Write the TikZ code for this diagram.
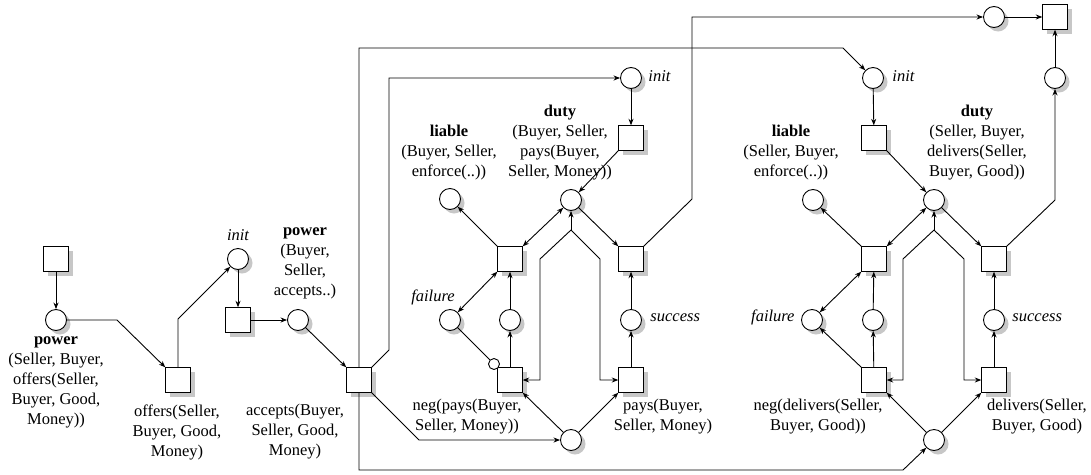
\documentclass[tikz,border=0pt]{standalone}
\usepackage{fontspec}
\setmainfont{Liberation Serif}
\usetikzlibrary{arrows.meta,calc}
\begin{document}
\begin{tikzpicture}[x=1pt,y=-1pt,
  line width=0.9pt,
  pl/.style={circle,draw,fill=white,minimum size=21pt,inner sep=0pt},
  tr/.style={rectangle,draw,fill=white,minimum size=24.5pt,inner sep=0pt},
  inh/.style={circle,draw,fill=white,minimum size=11pt,inner sep=0pt},
  shadowc/.style={fill=black!22,draw=none},
  lab/.style={font=\fontsize{16.5}{20}\selectfont,align=center,inner sep=0pt},
  ilab/.style={font=\fontsize{16.5}{20}\selectfont\itshape,inner sep=0pt},
  arr/.style={-{Stealth[length=6.5pt,width=5pt]}},
  darr/.style={{Stealth[length=6.5pt,width=5pt]}-{Stealth[length=6.5pt,width=5pt]}}]
\useasboundingbox (0,0) rectangle (1091,474);

% ---- shadows (drawn first, under everything)
\foreach \x/\y in {56/259,178/380,238/320,359/380,631/138,510/259,631/259,510/380,631/380,874/138,874/259,994/259,874/380,994/380,1055/17}
  \fill[shadowc] (\x-7.75,\y-7.75) rectangle (\x+16.75,\y+16.75);
\foreach \x/\y in {56/320,238/259,298/320,631/78,450/199,571/200,450/320,510/320,631/320,571/440,873/78,813/200,934/200,812/320,873/320,994/320,934/440,994/17,1055/78}
  \fill[shadowc] (\x+4,\y+4) circle[radius=10.5];

% ---- left part
\node[tr] (t0) at (56,259) {};
\node[pl] (p0) at (56,320) {};
\node[tr] (t1) at (178,380) {};
\node[pl] (p1) at (238,259) {};
\node[tr] (t2) at (238,320) {};
\node[pl] (p2) at (298,320) {};
\node[tr] (t3) at (359,380) {};

% ---- left group (pays)
\node[pl] (lInit) at (631,78) {};
\node[tr] (lT) at (631,138) {};
\node[pl] (lLiab) at (450,199) {};
\node[pl] (lDuty) at (571,200) {};
\node[tr] (lA) at (510,259) {};
\node[tr] (lB) at (631,259) {};
\node[pl] (lFail) at (450,320) {};
\node[pl] (lMid) at (510,320) {};
\node[pl] (lSucc) at (631,320) {};
\node[tr] (lC) at (510,380) {};
\node[tr] (lD) at (631,380) {};
\node[pl] (lBot) at (571,440) {};
\node[inh] (lInh) at (494,364) {};
\coordinate (lFork) at (571,230);

% ---- right group (delivers)
\node[pl] (rInit) at (873,78) {};
\node[tr] (rT) at (874,138) {};
\node[pl] (rLiab) at (813,200) {};
\node[pl] (rDuty) at (934,200) {};
\node[tr] (rA) at (874,259) {};
\node[tr] (rB) at (994,259) {};
\node[pl] (rFail) at (812,320) {};
\node[pl] (rMid) at (873,320) {};
\node[pl] (rSucc) at (994,320) {};
\node[tr] (rC) at (874,380) {};
\node[tr] (rD) at (994,380) {};
\node[pl] (rBot) at (934,440) {};
\coordinate (rFork) at (934,230);

% ---- top right
\node[pl] (tC) at (994,17) {};
\node[tr] (tS) at (1055,17) {};
\node[pl] (tR) at (1055,78) {};

% ---- labels
\node[lab] (l0) at (56,382.5) {\textbf{power}\\(Seller, Buyer,\\offers(Seller,\\Buyer, Good,\\Money))};
\node[lab] (l1) at (177,432) {offers(Seller,\\Buyer, Good,\\Money)};
\node[lab] (l2) at (295,432) {accepts(Buyer,\\Seller, Good,\\Money)};
\node[ilab,anchor=mid] (l3) at (238,238) {init};
\node[lab] (l4) at (305,263) {\textbf{power}\\(Buyer,\\Seller,\\accepts..)};
\node[lab] (l5) at (449,152.5) {\textbf{liable}\\(Buyer, Seller,\\enforce(..))};
\node[lab] (l6) at (560,142.5) {\textbf{duty}\\(Buyer, Seller,\\pays(Buyer,\\Seller, Money))};
\node[ilab,anchor=mid west] (l7) at (648,79) {init};
\node[ilab,anchor=mid] (l8) at (433,299) {failure};
\node[ilab,anchor=mid west] (l9) at (650,319) {success};
\node[lab] (l10) at (467,416.5) {neg(pays(Buyer,\\Seller, Money))};
\node[lab] (l11) at (663,416.5) {pays(Buyer,\\Seller, Money)};
\node[lab] (l12) at (791,152.5) {\textbf{liable}\\(Seller, Buyer,\\enforce(..))};
\node[lab] (l13) at (977,142.5) {\textbf{duty}\\(Seller, Buyer,\\delivers(Seller,\\Buyer, Good))};
\node[ilab,anchor=mid west] (l14) at (892,79) {init};
\node[ilab,anchor=mid east] (l15) at (795,319) {failure};
\node[ilab,anchor=mid west] (l16) at (1012,319) {success};
\node[lab] (l17) at (818,416.5) {neg(delivers(Seller,\\Buyer, Good))};
\node[lab] (l18) at (1037,416.5) {delivers(Seller,\\Buyer, Good)};

% ---- connectors, left part
\draw[arr] (t0) -- (p0);
\draw[arr] (p0.east) -- (117,320) -- (t1.north west);
\draw[arr] (t1.north) -- (178,319) -- (p1.south west);
\draw[arr] (p1) -- (t2);
\draw[arr] (t2) -- (p2);
\draw[arr] (p2.south east) -- (t3.north west);
\draw[arr] (t3.north) -- (359,48) -- (843,48) -- (rInit.north west);
\draw[arr] (t3.north east) -- (389,350) -- (389,78) -- (lInit.west);
\draw[arr] (t3.south east) -- (419,440) -- (lBot.west);
\draw[arr] (t3.south) -- (359,470) -- (903,470) -- (rBot.south west);

% ---- connectors, left group
\draw[arr] (lInit) -- (lT);
\draw[arr] (lT.south west) -- (lDuty.north east);
\draw[arr] (lA.north west) -- (lLiab.south east);
\draw[darr] (lA.north east) -- (lDuty.south west);
\draw[arr] (lDuty.south east) -- (lB.north west);
\draw[arr] (lFork) -- (lDuty.south);
\draw[arr] (lFork) -- (540,259) -- (540,380) -- (lC.east);
\draw[arr] (lFork) -- (600,259) -- (600,380) -- (lD.west);
\draw[darr] (lA.south west) -- (lFail.north east);
\draw[arr] (lMid) -- (lA);
\draw[arr] (lC) -- (lMid);
\draw (lFail.south east) -- (lInh);
\draw[arr] (lSucc) -- (lB);
\draw[arr] (lD) -- (lSucc);
\draw[arr] (lBot.north west) -- (lC.south east);
\draw[arr] (lBot.north east) -- (lD.south west);
\draw[arr] (lB.north east) -- (692,199) -- (692,17) -- (tC.west);

% ---- connectors, right group
\draw[arr] (rInit) -- (rT);
\draw[arr] (rT.south east) -- (rDuty.north west);
\draw[arr] (rA.north west) -- (rLiab.south east);
\draw[darr] (rA.north east) -- (rDuty.south west);
\draw[arr] (rDuty.south east) -- (rB.north west);
\draw[arr] (rFork) -- (rDuty.south);
\draw[arr] (rFork) -- (903,259) -- (903,380) -- (rC.east);
\draw[arr] (rFork) -- (964,259) -- (964,380) -- (rD.west);
\draw[darr] (rA.south west) -- (rFail.north east);
\draw[arr] (rMid) -- (rA);
\draw[arr] (rC) -- (rMid);
\draw[arr] (rC.north west) -- (rFail.south east);
\draw[arr] (rSucc) -- (rB);
\draw[arr] (rD) -- (rSucc);
\draw[arr] (rBot.north west) -- (rC.south east);
\draw[arr] (rBot.north east) -- (rD.south west);
\draw[arr] (rB.north east) -- (1055,200) -- (tR.south);

% ---- top right
\draw[arr] (tC) -- (tS);
\draw[arr] (tR) -- (tS);
\end{tikzpicture}
\end{document}
